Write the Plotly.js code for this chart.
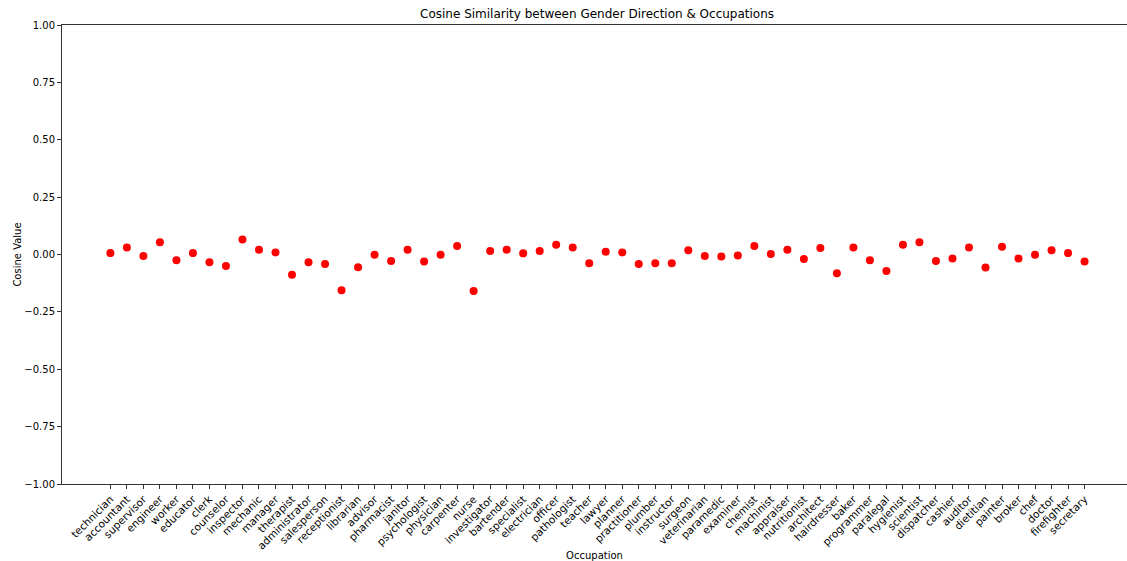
<!DOCTYPE html>
<html>
<head>
<meta charset="utf-8">
<script src="https://cdn.plot.ly/plotly-3.0.1.min.js"></script>
<style>html,body{margin:0;padding:0;background:#fff;}#chart{width:1127px;height:561px;}</style>
</head>
<body>
<div id="chart"></div>
<script>
const occupations = ["technician","accountant","supervisor","engineer","worker","educator","clerk","counselor","inspector","mechanic","manager","therapist","administrator","salesperson","receptionist","librarian","advisor","pharmacist","janitor","psychologist","physician","carpenter","nurse","investigator","bartender","specialist","electrician","officer","pathologist","teacher","lawyer","planner","practitioner","plumber","instructor","surgeon","veterinarian","paramedic","examiner","chemist","machinist","appraiser","nutritionist","architect","hairdresser","baker","programmer","paralegal","hygienist","scientist","dispatcher","cashier","auditor","dietitian","painter","broker","chef","doctor","firefighter","secretary"];
const cosineValues = [0.006,0.031,-0.007,0.053,-0.025,0.006,-0.034,-0.050,0.065,0.021,0.009,-0.088,-0.034,-0.041,-0.156,-0.056,-0.001,-0.028,0.021,-0.031,-0.001,0.037,-0.159,0.015,0.021,0.005,0.015,0.043,0.031,-0.038,0.012,0.009,-0.041,-0.038,-0.038,0.018,-0.007,-0.009,-0.004,0.037,0.002,0.021,-0.020,0.028,-0.082,0.031,-0.025,-0.072,0.043,0.053,-0.028,-0.017,0.031,-0.057,0.034,-0.017,-0.001,0.018,0.006,-0.031];
const yTicks = [-1.00,-0.75,-0.50,-0.25,0.00,0.25,0.50,0.75,1.00];

const idx = occupations.map((_, i) => i);
const trace = {
  x: idx,
  y: cosineValues,
  mode: 'markers',
  type: 'scatter',
  marker: {color: '#ff0000', size: 8},
  hoverinfo: 'skip'
};
const fontFam = 'DejaVu Sans, sans-serif';
const layout = {
  width: 1127, height: 561,
  margin: {l: 62, r: 0, t: 25, b: 77},
  paper_bgcolor: '#fff', plot_bgcolor: '#fff',
  font: {family: fontFam, size: 10, color: '#000'},
  showlegend: false,
  title: {text: 'Cosine Similarity between Gender Direction & Occupations', font: {family: fontFam, size: 12, color: '#000'}, x: 0.5024, xref: 'paper', xanchor: 'center', y: 1, yref: 'container', yanchor: 'top', pad: {t: 10}},
  xaxis: {
    range: [-2.93, 61.57],
    tickmode: 'array', tickvals: idx, ticktext: occupations,
    tickangle: -45,
    ticks: 'outside', ticklen: 4, tickcolor: '#333',
    showline: true, linecolor: '#333', linewidth: 1, mirror: true,
    showgrid: false, zeroline: false,
    tickfont: {family: fontFam, size: 10.5, color: '#000'},
    title: {text: 'Occupation', font: {family: fontFam, size: 10, color: '#000'}, standoff: 4}
  },
  yaxis: {
    range: [-1, 1],
    tickmode: 'array', tickvals: yTicks, ticktext: yTicks.map(v => (v < 0 ? '\u2212' : '') + Math.abs(v).toFixed(2)),
    ticks: 'outside', ticklen: 4, tickcolor: '#333',
    showline: true, linecolor: '#333', linewidth: 1, mirror: false,
    showgrid: false, zeroline: false,
    tickfont: {family: fontFam, size: 10, color: '#000'},
    title: {text: 'Cosine Value', font: {family: fontFam, size: 10, color: '#000'}, standoff: 0}
  }
};
Plotly.newPlot('chart', [trace], layout, {staticPlot: true, displayModeBar: false});
</script>
</body>
</html>
